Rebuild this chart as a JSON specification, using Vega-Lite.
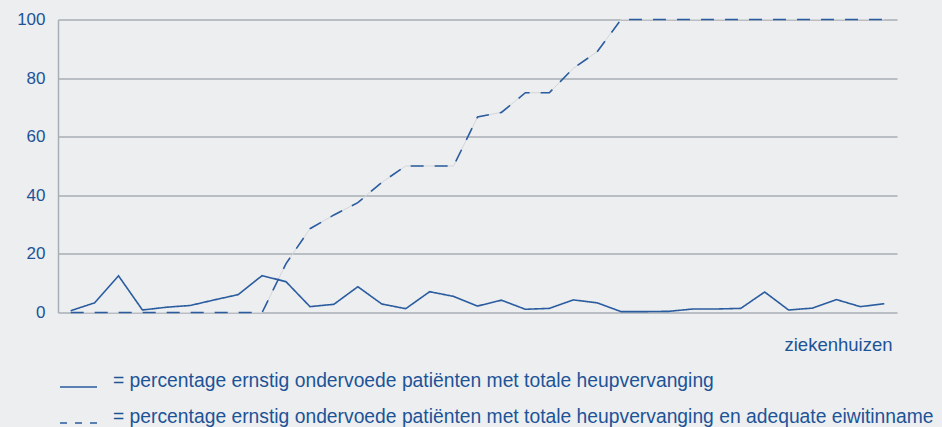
{
  "$schema": "https://vega.github.io/schema/vega-lite/v6.json",
  "autosize": {"type": "none"},
  "width": 839,
  "height": 293,
  "padding": {"left": 58, "top": 19.5, "right": 45, "bottom": 114.5},
  "background": "#eceef0",
  "config": {
    "view": {"stroke": null},
    "font": "Liberation Sans",
    "axis": {"labelFont": "Liberation Sans", "titleFont": "Liberation Sans"}
  },
  "data": {
    "values": [
      {"h": 0, "s": 0.6, "d": 0},
      {"h": 1, "s": 3.3, "d": 0},
      {"h": 2, "s": 12.5, "d": 0},
      {"h": 3, "s": 0.85, "d": 0},
      {"h": 4, "s": 1.8, "d": 0},
      {"h": 5, "s": 2.4, "d": 0},
      {"h": 6, "s": 4.3, "d": 0},
      {"h": 7, "s": 6.1, "d": 0},
      {"h": 8, "s": 12.6, "d": 0},
      {"h": 9, "s": 10.5, "d": 16.7},
      {"h": 10, "s": 2.0, "d": 28.6},
      {"h": 11, "s": 2.8, "d": 33.3},
      {"h": 12, "s": 8.8, "d": 37.5},
      {"h": 13, "s": 2.9, "d": 44.4},
      {"h": 14, "s": 1.3, "d": 50},
      {"h": 15, "s": 7.1, "d": 50},
      {"h": 16, "s": 5.5, "d": 50},
      {"h": 17, "s": 2.2, "d": 66.7},
      {"h": 18, "s": 4.2, "d": 68.3},
      {"h": 19, "s": 1.1, "d": 75},
      {"h": 20, "s": 1.4, "d": 75},
      {"h": 21, "s": 4.3, "d": 83.3},
      {"h": 22, "s": 3.3, "d": 89},
      {"h": 23, "s": 0.3, "d": 100},
      {"h": 24, "s": 0.3, "d": 100},
      {"h": 25, "s": 0.4, "d": 100},
      {"h": 26, "s": 1.2, "d": 100},
      {"h": 27, "s": 1.2, "d": 100},
      {"h": 28, "s": 1.4, "d": 100},
      {"h": 29, "s": 7.0, "d": 100},
      {"h": 30, "s": 0.85, "d": 100},
      {"h": 31, "s": 1.5, "d": 100},
      {"h": 32, "s": 4.4, "d": 100},
      {"h": 33, "s": 2.0, "d": 100},
      {"h": 34, "s": 3.0, "d": 100}
    ]
  },
  "transform": [
    {"fold": ["s", "d"], "as": ["serie", "waarde"]},
    {"calculate": "datum.serie === 's' ? '= percentage ernstig ondervoede patiënten met totale heupvervanging' : '= percentage ernstig ondervoede patiënten met totale heupvervanging en adequate eiwitinname'", "as": "reeks"}
  ],
  "encoding": {
    "x": {
      "field": "h", "type": "quantitative",
      "scale": {"domain": [-0.53, 34.53], "nice": false, "zero": false},
      "axis": {
        "title": "ziekenhuizen", "labels": false, "ticks": false, "domain": false, "grid": false,
        "titleFontSize": 18.5, "titleFontWeight": "normal", "titleColor": "#1d5397",
        "titleAnchor": "end", "titleAlign": "right", "titlePadding": 23, "titleX": 834
      }
    },
    "y": {
      "field": "waarde", "type": "quantitative",
      "scale": {"domain": [0, 100], "nice": false},
      "axis": {
        "title": null, "values": [0, 20, 40, 60, 80, 100], "ticks": false,
        "labelFontSize": 17, "labelColor": "#1d5397", "labelPadding": 13,
        "domain": true, "domainColor": "#a7aeb6", "domainWidth": 1.5,
        "grid": true, "gridColor": "#a7aeb6", "gridWidth": 1.5
      }
    }
  },
  "layer": [
    {
      "transform": [{"filter": "datum.serie === 'd'"}],
      "mark": {"type": "line", "color": "#d3d6da", "strokeWidth": 1},
      "encoding": {}
    },
    {
      "mark": {"type": "line", "color": "#2a5c9f", "strokeWidth": 1.6},
      "encoding": {
        "strokeDash": {
          "field": "reeks", "type": "nominal",
          "scale": {"range": [[1, 0], [13, 11]]},
          "legend": null
        }
      }
    },
    {
      "transform": [{"filter": "datum.h === 0"}],
      "mark": {"type": "line", "color": "#2a5c9f", "strokeWidth": 1.6},
      "encoding": {
        "strokeDash": {
          "field": "reeks", "type": "nominal",
          "scale": {"range": [[1, 0], [7, 8]]},
          "legend": {
            "title": null, "orient": "none", "legendX": 1, "legendY": 348,
            "padding": 0, "direction": "vertical",
            "symbolType": "stroke", "symbolSize": 1369, "symbolStrokeColor": "#2a5c9f",
            "symbolStrokeWidth": 1.6,
            "labelFontSize": 19.3, "labelColor": "#1d5397", "labelOffset": 15, "labelLimit": 0,
            "labelBaseline": "alphabetic",
            "rowPadding": 12
          }
        }
      }
    }
  ],
  "resolve": {"scale": {"strokeDash": "independent"}, "legend": {"strokeDash": "independent"}}
}
